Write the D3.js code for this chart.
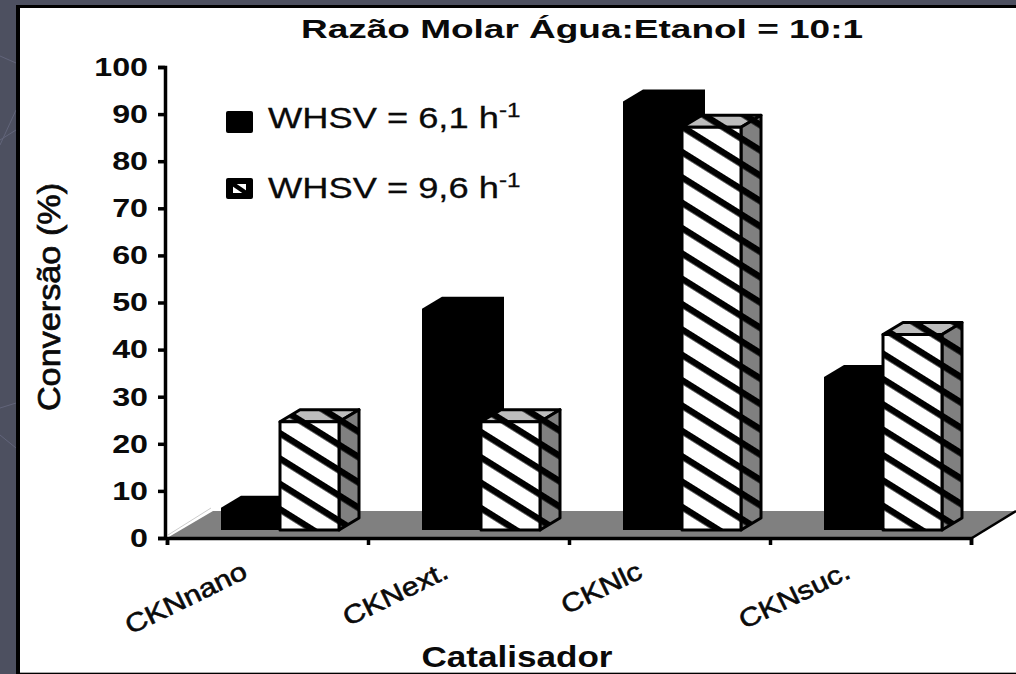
<!DOCTYPE html>
<html><head><meta charset="utf-8">
<script src="https://cdnjs.cloudflare.com/ajax/libs/d3/7.8.5/d3.min.js"></script>
<style>html,body{margin:0;padding:0;background:#4d5060;overflow:hidden}svg{display:block}text{font-family:"Liberation Sans",Arial,sans-serif;fill:#0a0a0a}</style>
</head><body><svg id="c" width="1016" height="674"></svg>
<script>
const categories = ["CKNnano","CKNext.","CKNlc","CKNsuc."];
const seriesNames = ["WHSV = 6,1 h","WHSV = 9,6 h"];
const series61 = [4.7, 47, 91, 32.5];
const series96 = [23, 23, 85.5, 41.5];
const yTicks = [0,10,20,30,40,50,60,70,80,90,100];

const svg = d3.select("#c");
const defs = svg.append("defs");
function hatch(id, bg){
  const p = defs.append("pattern").attr("id",id).attr("patternUnits","userSpaceOnUse")
    .attr("width",40).attr("height",21.5).attr("patternTransform","translate(0,1) rotate(32)");
  p.append("rect").attr("width",40).attr("height",21.5).attr("fill",bg);
  p.append("rect").attr("y",0).attr("width",40).attr("height",6.5).attr("fill","#000");
}
hatch("hFront","#fff"); hatch("hSide","#808080"); hatch("hTop","#bdbdbd");

// background
svg.append("rect").attr("width",1016).attr("height",674).attr("fill","#4d5060");
["M0,56 L16,63","M0,145 L16,110","M0,140 L16,130","M0,408 L16,403","M0,435 L16,448"].forEach(d=>
  svg.append("path").attr("d",d).attr("stroke","#62657a").attr("fill","none"));
// panel
svg.append("rect").attr("x",16).attr("y",5).attr("width",1010).attr("height",680).attr("fill","#000");
svg.append("rect").attr("x",20).attr("y",8).attr("width",1000).attr("height",664).attr("fill","#fff");
svg.append("rect").attr("x",20).attr("y",672).attr("width",996).attr("height",1).attr("fill","#aaa");

const y = d3.scaleLinear().domain([0,100]).range([538,67]);
const x = d3.scaleBand().domain(categories).range([167,971]).paddingInner(0).paddingOuter(0);
const inner = d3.scaleBand().domain([0,1]).range([54,x.step()-29]);
const dx = 20, dy = -12, base = 8;   // oblique offset and floor inset
const bottom = y(0) - base;

// floor
svg.append("polygon").attr("fill","#808080")
  .attr("points",[[167,538],[213,511],[1016,511],[972,538]].join(" "));
svg.append("line").attr("x1",168).attr("y1",535).attr("x2",211).attr("y2",508).attr("stroke","#ccc");
svg.append("line").attr("x1",972).attr("y1",538).attr("x2",1016).attr("y2",511).attr("stroke","#000").attr("stroke-width",2.5);

function poly(g,pts,fill,stroke){
  g.append("polygon").attr("points",pts.join(" ")).attr("fill",fill)
   .attr("stroke",stroke?"#000":"none").attr("stroke-width",stroke?3:0).attr("stroke-linejoin","round");
}
const marks = svg.append("g");
categories.forEach((c,i)=>{
  const g = marks.append("g");
  // black series
  let l = x(c)+inner(0), w = inner.bandwidth()+3, t = y(series61[i])-base;
  poly(g,[[l,t],[l+dx,t+dy],[l+w+dx,t+dy],[l+w+dx,bottom+dy],[l+w,bottom],[l,bottom]],"#000",false);
  // hatched series
  l = x(c)+inner(1); w = inner.bandwidth(); t = y(series96[i])-base;
  const r = l+w;
  poly(g,[[l,t],[l+dx,t+dy],[r+dx,t+dy],[r,t]],"url(#hTop)",true);
  poly(g,[[r,t],[r+dx,t+dy],[r+dx,bottom+dy],[r,bottom]],"url(#hSide)",true);
  poly(g,[[l,t],[r,t],[r,bottom],[l,bottom]],"url(#hFront)",true);
});

// axes
const yAxis = svg.append("g").attr("transform","translate(165,0)")
  .call(d3.axisLeft(y).tickValues(yTicks).tickSize(7).tickPadding(5));
yAxis.select(".domain").attr("stroke","#000").attr("stroke-width",3.5);
yAxis.selectAll("line").attr("stroke","#000").attr("stroke-width",3.5);
yAxis.selectAll("text").style("font-family",'"Liberation Sans"').style("font-size","26px").style("font-weight","bold").attr("fill","#0a0a0a")
  .attr("x",-17/1.24).attr("transform","scale(1.24,1)");

const edges = d3.scaleLinear().domain([0,categories.length]).range([167,971]);
const xAxis = svg.append("g").attr("transform","translate(0,538)")
  .call(d3.axisBottom(edges).tickValues(d3.range(categories.length+1)).tickSize(7).tickFormat(""));
xAxis.select(".domain").attr("stroke","#000").attr("stroke-width",3.5);
xAxis.selectAll("line").attr("stroke","#000").attr("stroke-width",3.5);

function label(txt,px,py,size,opts={}){
  return svg.append("text")
    .attr("transform",`translate(${px},${py}) rotate(${opts.rot||0}) scale(${opts.sx||1},1)`)
    .attr("text-anchor",opts.anchor||"start")
    .style("font-size",size+"px").style("font-weight",opts.bold?"bold":"normal")
    .style("stroke","#0a0a0a").style("stroke-width",opts.heavy||0).text(txt);
}
label("Razão Molar Água:Etanol = 10:1",582,38,25,{anchor:"middle",bold:true,sx:1.48});
label("Conversão (%)",60,297,32,{anchor:"middle",rot:-90,sx:1.07,heavy:0.7});
label("Catalisador",517,667,30,{anchor:"middle",bold:true,sx:1.17});
categories.forEach((c,i)=>{
  label(c,x(c)+(i==2?75:82),577,26,{anchor:"end",rot:-26,sx:1.17,heavy:0.6});
});

// legend
[0,1].forEach(i=>{
  const ly = [111,178][i], h=[22,21][i];
  svg.append("rect").attr("x",226).attr("y",ly).attr("width",27).attr("height",h).attr("rx",2).attr("fill","#000");
  if(i==1){
    svg.append("rect").attr("x",233).attr("y",ly+6).attr("width",13).attr("height",9).attr("fill","#fff");
    svg.append("line").attr("x1",230).attr("y1",ly+4).attr("x2",249).attr("y2",ly+17).attr("stroke","#000").attr("stroke-width",4.5);
  }
  const t = label(seriesNames[i],268,[128,198][i],30,{sx:1.21,heavy:0.3});
  t.append("tspan").attr("dy",-11).style("font-size","20px").text("-1");
});
</script></body></html>
